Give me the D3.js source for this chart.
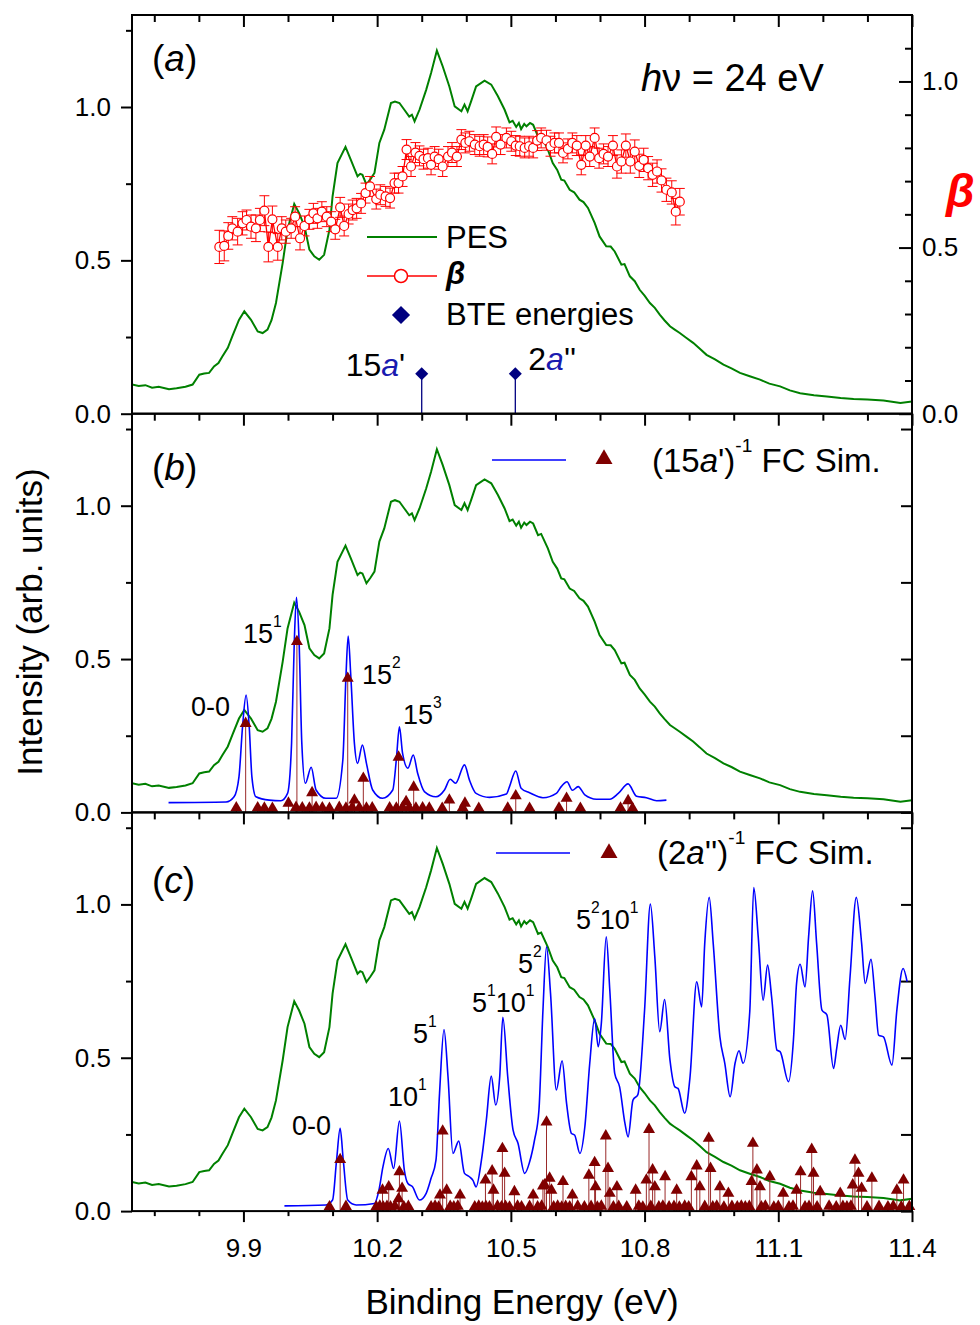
<!DOCTYPE html>
<html><head><meta charset="utf-8">
<script src="https://cdn.jsdelivr.net/npm/d3@7"></script>
<style>body{margin:0;background:#fff} svg{display:block} text{font-family:"Liberation Sans",Arial,sans-serif}</style>
</head><body><svg id="c" width="980" height="1325"></svg>
<script>
// ---------------- DATA ----------------
const xMajor = [9.9, 10.2, 10.5, 10.8, 11.1, 11.4];
const xMinor = [9.7, 9.8, 10.0, 10.1, 10.3, 10.4, 10.6, 10.7, 10.9, 11.0, 11.2, 11.3];
const yMajor = [0, 0.5, 1.0];
const yMinor = [0.25, 0.75, 1.25];
const betaMajor = [0, 0.5, 1.0];
const betaMinor = [0.1, 0.2, 0.3, 0.4, 0.6, 0.7, 0.8, 0.9, 1.1];

// PES spectrum (binding energy eV, intensity)
const pes = [[9.65,0.095],[9.665,0.09],[9.68,0.093],[9.695,0.085],[9.71,0.088],[9.733,0.08],[9.75,0.083],[9.77,0.088],[9.786,0.095],[9.801,0.127],[9.812,0.131],[9.823,0.133],[9.834,0.154],[9.844,0.165],[9.853,0.187],[9.865,0.215],[9.875,0.252],[9.890,0.306],[9.902,0.334],[9.917,0.306],[9.932,0.268],[9.943,0.263],[9.954,0.274],[9.963,0.305],[9.973,0.361],[9.988,0.491],[9.999,0.60],[10.014,0.684],[10.025,0.654],[10.037,0.611],[10.048,0.535],[10.059,0.513],[10.070,0.502],[10.081,0.518],[10.093,0.60],[10.100,0.709],[10.111,0.817],[10.129,0.870],[10.141,0.828],[10.156,0.774],[10.162,0.782],[10.167,0.779],[10.176,0.747],[10.185,0.765],[10.194,0.785],[10.205,0.883],[10.216,0.926],[10.231,1.013],[10.240,1.018],[10.250,1.013],[10.261,0.991],[10.272,0.969],[10.278,0.975],[10.284,0.953],[10.295,0.991],[10.310,1.056],[10.321,1.111],[10.334,1.184],[10.347,1.133],[10.362,1.067],[10.374,1.002],[10.389,0.986],[10.396,1.008],[10.403,0.986],[10.411,1.019],[10.422,1.067],[10.441,1.086],[10.456,1.073],[10.471,1.035],[10.486,0.991],[10.497,0.950],[10.504,0.955],[10.512,0.935],[10.518,0.948],[10.523,0.928],[10.530,0.945],[10.535,0.937],[10.543,0.948],[10.550,0.942],[10.561,0.904],[10.568,0.908],[10.583,0.861],[10.594,0.817],[10.604,0.795],[10.613,0.763],[10.620,0.760],[10.632,0.730],[10.642,0.722],[10.654,0.698],[10.663,0.690],[10.673,0.671],[10.688,0.622],[10.699,0.578],[10.714,0.546],[10.724,0.545],[10.733,0.529],[10.748,0.486],[10.755,0.488],[10.767,0.448],[10.778,0.432],[10.789,0.404],[10.800,0.385],[10.812,0.361],[10.823,0.345],[10.834,0.323],[10.845,0.304],[10.857,0.285],[10.866,0.276],[10.879,0.263],[10.894,0.247],[10.909,0.231],[10.924,0.212],[10.939,0.192],[10.958,0.177],[10.977,0.160],[10.995,0.148],[11.014,0.133],[11.036,0.122],[11.059,0.111],[11.080,0.098],[11.104,0.089],[11.126,0.076],[11.149,0.067],[11.180,0.060],[11.209,0.056],[11.240,0.051],[11.269,0.048],[11.300,0.046],[11.336,0.043],[11.374,0.035],[11.40,0.040]];

// beta parameter (energy, beta, error)
const beta = [[9.846,0.502,0.05],[9.857,0.505,0.045],[9.866,0.535,0.04],[9.875,0.558,0.035],[9.887,0.548,0.04],[9.898,0.573,0.035],[9.907,0.583,0.03],[9.917,0.563,0.035],[9.928,0.558,0.04],[9.937,0.583,0.035],[9.947,0.611,0.045],[9.956,0.502,0.045],[9.965,0.585,0.04],[9.977,0.502,0.04],[9.986,0.558,0.035],[9.995,0.548,0.035],[10.007,0.558,0.03],[10.016,0.593,0.03],[10.027,0.528,0.035],[10.037,0.565,0.03],[10.048,0.585,0.03],[10.057,0.603,0.03],[10.066,0.588,0.03],[10.076,0.608,0.03],[10.087,0.593,0.03],[10.097,0.578,0.03],[10.106,0.555,0.03],[10.117,0.621,0.03],[10.126,0.565,0.03],[10.136,0.601,0.03],[10.145,0.613,0.03],[10.154,0.618,0.03],[10.164,0.633,0.03],[10.174,0.664,0.03],[10.184,0.684,0.03],[10.198,0.646,0.03],[10.207,0.659,0.03],[10.219,0.654,0.03],[10.229,0.649,0.03],[10.239,0.694,0.03],[10.248,0.694,0.03],[10.257,0.714,0.03],[10.266,0.795,0.03],[10.276,0.744,0.03],[10.286,0.786,0.03],[10.295,0.776,0.03],[10.304,0.766,0.03],[10.314,0.769,0.03],[10.321,0.749,0.03],[10.329,0.774,0.03],[10.338,0.766,0.03],[10.347,0.744,0.03],[10.359,0.774,0.03],[10.368,0.786,0.03],[10.379,0.774,0.03],[10.389,0.825,0.03],[10.398,0.815,0.03],[10.407,0.820,0.03],[10.419,0.810,0.03],[10.430,0.805,0.03],[10.439,0.810,0.03],[10.448,0.803,0.03],[10.458,0.782,0.03],[10.467,0.833,0.03],[10.477,0.810,0.03],[10.490,0.830,0.03],[10.501,0.820,0.03],[10.511,0.807,0.03],[10.520,0.805,0.03],[10.531,0.800,0.03],[10.541,0.805,0.03],[10.550,0.800,0.03],[10.559,0.822,0.03],[10.568,0.830,0.03],[10.580,0.823,0.03],[10.589,0.805,0.03],[10.598,0.815,0.03],[10.608,0.815,0.03],[10.617,0.785,0.03],[10.628,0.797,0.03],[10.638,0.815,0.03],[10.648,0.807,0.03],[10.658,0.749,0.03],[10.668,0.807,0.03],[10.677,0.774,0.03],[10.688,0.830,0.03],[10.698,0.769,0.03],[10.708,0.782,0.03],[10.718,0.774,0.03],[10.729,0.807,0.03],[10.738,0.744,0.035],[10.748,0.759,0.035],[10.758,0.807,0.035],[10.768,0.759,0.035],[10.778,0.789,0.035],[10.788,0.746,0.035],[10.798,0.764,0.035],[10.808,0.739,0.035],[10.818,0.719,0.035],[10.828,0.729,0.035],[10.838,0.702,0.035],[10.849,0.674,0.035],[10.861,0.666,0.035],[10.870,0.608,0.04],[10.879,0.638,0.04]];

// BTE energies
const bte = [[10.30,0.13,"15","a'"],[10.51,0.13,"2","a''"]];

// (15a')^-1 FC simulation: convolved spectrum and stick positions
const sim15 = [[9.732,0.032],[9.861,0.034],[9.879,0.051],[9.890,0.116],[9.898,0.279],[9.906,0.383],[9.913,0.279],[9.919,0.116],[9.928,0.051],[9.958,0.040],[9.984,0.038],[9.999,0.062],[10.008,0.225],[10.014,0.551],[10.019,0.701],[10.025,0.551],[10.031,0.225],[10.039,0.095],[10.052,0.147],[10.063,0.073],[10.085,0.046],[10.108,0.046],[10.123,0.171],[10.130,0.442],[10.135,0.575],[10.141,0.442],[10.149,0.225],[10.156,0.160],[10.167,0.220],[10.176,0.160],[10.190,0.073],[10.212,0.046],[10.235,0.073],[10.243,0.171],[10.250,0.279],[10.257,0.193],[10.269,0.144],[10.281,0.187],[10.291,0.127],[10.306,0.068],[10.332,0.051],[10.351,0.073],[10.364,0.108],[10.376,0.095],[10.396,0.155],[10.407,0.106],[10.422,0.062],[10.452,0.049],[10.490,0.060],[10.497,0.084],[10.511,0.135],[10.523,0.079],[10.542,0.064],[10.572,0.048],[10.602,0.062],[10.613,0.084],[10.626,0.100],[10.638,0.072],[10.651,0.084],[10.666,0.057],[10.692,0.043],[10.722,0.043],[10.741,0.062],[10.763,0.093],[10.782,0.053],[10.804,0.048],[10.827,0.038],[10.849,0.040]];
const sticks15 = [[9.905,0.29],[10.020,0.557],[10.134,0.437],[10.248,0.18],[10.054,0.064],[10.169,0.111],[10.282,0.082],[10.362,0.04],[10.397,0.03],[10.511,0.054],[10.265,0.035],[10.149,0.04],[10.001,0.03],[10.625,0.046],[10.763,0.038],
 [9.884,0.015],[9.932,0.015],[9.947,0.014],[9.965,0.013],[10.018,0.016],[10.032,0.015],[10.048,0.014],[10.063,0.016],[10.077,0.015],[10.093,0.013],[10.115,0.016],[10.130,0.014],[10.144,0.016],[10.160,0.015],[10.176,0.014],[10.189,0.015],[10.228,0.015],[10.243,0.014],[10.257,0.016],[10.272,0.015],[10.287,0.014],[10.302,0.015],[10.317,0.014],[10.346,0.013],[10.392,0.015],[10.428,0.013],[10.493,0.014],[10.542,0.013],[10.608,0.014],[10.656,0.013],[10.746,0.014],[10.773,0.013]];

// (2a'')^-1 FC simulation
const sim2 = [[9.992,0.017],[10.085,0.020],[10.100,0.036],[10.109,0.166],[10.117,0.270],[10.124,0.166],[10.134,0.036],[10.153,0.020],[10.194,0.025],[10.204,0.068],[10.213,0.144],[10.225,0.204],[10.237,0.139],[10.250,0.294],[10.261,0.134],[10.269,0.090],[10.279,0.080],[10.295,0.036],[10.310,0.058],[10.321,0.107],[10.332,0.166],[10.340,0.384],[10.350,0.592],[10.359,0.438],[10.370,0.188],[10.383,0.228],[10.396,0.123],[10.407,0.112],[10.415,0.100],[10.422,0.079],[10.434,0.166],[10.445,0.297],[10.456,0.440],[10.466,0.346],[10.475,0.438],[10.482,0.632],[10.493,0.438],[10.505,0.264],[10.516,0.221],[10.531,0.123],[10.542,0.160],[10.553,0.231],[10.563,0.329],[10.572,0.655],[10.580,0.862],[10.589,0.710],[10.602,0.395],[10.615,0.490],[10.625,0.351],[10.636,0.253],[10.643,0.248],[10.655,0.188],[10.666,0.275],[10.677,0.482],[10.688,0.628],[10.696,0.536],[10.703,0.612],[10.714,0.894],[10.722,0.720],[10.733,0.449],[10.744,0.405],[10.756,0.286],[10.763,0.242],[10.774,0.362],[10.785,0.380],[10.800,0.655],[10.813,1.001],[10.823,0.829],[10.834,0.585],[10.845,0.690],[10.857,0.492],[10.868,0.405],[10.875,0.400],[10.890,0.319],[10.902,0.438],[10.917,0.748],[10.928,0.666],[10.935,0.873],[10.945,1.023],[10.954,0.873],[10.969,0.568],[10.980,0.482],[10.992,0.373],[11.003,0.482],[11.012,0.523],[11.021,0.482],[11.036,0.650],[11.045,1.055],[11.055,0.894],[11.066,0.688],[11.076,0.802],[11.085,0.699],[11.097,0.525],[11.104,0.520],[11.123,0.422],[11.134,0.558],[11.141,0.742],[11.149,0.805],[11.160,0.731],[11.168,0.894],[11.177,1.044],[11.186,0.873],[11.198,0.655],[11.209,0.640],[11.224,0.465],[11.231,0.530],[11.240,0.606],[11.250,0.560],[11.261,0.764],[11.275,1.023],[11.287,0.873],[11.295,0.742],[11.308,0.821],[11.317,0.699],[11.325,0.574],[11.336,0.568],[11.355,0.476],[11.366,0.655],[11.380,0.791],[11.389,0.748]];
const sticks2 = [[10.117,0.168],[10.212,0.068],[10.226,0.079],[10.250,0.128],[10.256,0.074],[10.248,0.04],[10.347,0.261],[10.341,0.052],[10.356,0.068],[10.386,0.052],[10.443,0.101],[10.458,0.131],[10.461,0.068],[10.481,0.204],[10.486,0.123],[10.508,0.063],[10.550,0.052],[10.576,0.085],[10.580,0.290],[10.587,0.107],[10.572,0.082],[10.591,0.068],[10.617,0.096],[10.638,0.052],[10.675,0.117],[10.688,0.158],[10.690,0.079],[10.713,0.245],[10.718,0.139],[10.722,0.058],[10.738,0.079],[10.780,0.068],[10.804,0.101],[10.810,0.266],[10.818,0.134],[10.823,0.079],[10.846,0.112],[10.872,0.068],[10.905,0.112],[10.917,0.147],[10.924,0.079],[10.944,0.237],[10.948,0.139],[10.969,0.079],[10.988,0.058],[11.040,0.096],[11.043,0.221],[11.052,0.134],[11.059,0.079],[11.081,0.112],[11.111,0.058],[11.141,0.068],[11.150,0.128],[11.175,0.201],[11.179,0.123],[11.194,0.063],[11.239,0.058],[11.267,0.085],[11.272,0.166],[11.280,0.123],[11.287,0.074],[11.310,0.107],[11.366,0.068],[11.381,0.101],
 [10.093,0.014],[10.130,0.015],[10.198,0.014],[10.206,0.016],[10.214,0.013],[10.222,0.015],[10.230,0.014],[10.240,0.016],[10.260,0.014],[10.270,0.015],[10.321,0.014],[10.330,0.016],[10.338,0.013],[10.364,0.015],[10.372,0.014],[10.381,0.016],[10.419,0.014],[10.428,0.016],[10.436,0.013],[10.444,0.015],[10.452,0.014],[10.470,0.016],[10.479,0.014],[10.488,0.015],[10.497,0.013],[10.515,0.016],[10.524,0.014],[10.542,0.015],[10.560,0.014],[10.569,0.016],[10.596,0.014],[10.605,0.016],[10.614,0.013],[10.623,0.015],[10.632,0.014],[10.650,0.016],[10.665,0.014],[10.680,0.015],[10.694,0.013],[10.703,0.016],[10.730,0.014],[10.742,0.015],[10.760,0.014],[10.787,0.016],[10.796,0.013],[10.814,0.015],[10.832,0.014],[10.841,0.016],[10.855,0.014],[10.866,0.015],[10.878,0.013],[10.890,0.016],[10.899,0.014],[10.935,0.015],[10.953,0.014],[10.962,0.016],[10.978,0.013],[10.996,0.015],[11.008,0.014],[11.017,0.016],[11.026,0.014],[11.035,0.015],[11.062,0.014],[11.071,0.016],[11.090,0.013],[11.100,0.015],[11.124,0.014],[11.133,0.016],[11.160,0.014],[11.169,0.015],[11.187,0.014],[11.214,0.016],[11.230,0.014],[11.245,0.015],[11.254,0.014],[11.263,0.016],[11.299,0.014],[11.326,0.015],[11.346,0.014],[11.358,0.016],[11.376,0.014],[11.394,0.015]];

// ---------------- LAYOUT ----------------
const svg = d3.select("#c");
const L = 132, R = 912, PH = 398.7;
const tops = [15, 413.7, 812.4];
const x = d3.scaleLinear().domain([9.65, 11.4]).range([L, R]);
const ys = tops.map(t => d3.scaleLinear().domain([0, 1.3]).range([t + PH, t]));
const yBeta = d3.scaleLinear().domain([0, 1.2]).range([tops[0] + PH, tops[0]]);
const GREEN = "#008000", RED = "#ff0000", BLUE = "#0000ff", DRED = "#800000", NAVY = "#000080";
const FS = 26;

function rich(sel, px, py, size, parts, opts = {}) {
  const t = sel.append("text").attr("x", px).attr("y", py).attr("font-size", size);
  if (opts.anchor) t.attr("text-anchor", opts.anchor);
  if (opts.fill) t.attr("fill", opts.fill);
  let shift = 0;
  parts.forEach(p => {
    const s = t.append("tspan").text(p.t);
    const target = p.sup ? -0.6 * size : 0;
    if (target !== shift) { s.attr("dy", target - shift); shift = target; }
    if (p.sup) s.attr("font-size", size * 0.58);
    if (p.i) s.attr("font-style", "italic");
    if (p.b) s.attr("font-weight", "bold");
    if (p.c) s.attr("fill", p.c);
  });
  return t;
}
function styleAxis(g) {
  g.select(".domain").remove();
  g.selectAll(".tick line").attr("stroke", "#000").attr("stroke-width", 2);
  g.selectAll("text").attr("font-size", FS).attr("fill", "#000").attr("font-family", '"Liberation Sans",Arial,sans-serif');
}

const defs = svg.append("defs");
tops.forEach((t, i) => {
  defs.append("clipPath").attr("id", "clip" + i).append("rect")
    .attr("x", L).attr("y", t).attr("width", R - L).attr("height", PH);
});

const pesLine = y => d3.line().x(d => x(d[0])).y(d => y(d[1]));
const smooth = y => d3.line().curve(d3.curveMonotoneX).x(d => x(d[0])).y(d => y(d[1]));
const tri = d3.symbol().type(d3.symbolTriangle).size(62)();

tops.forEach((t, i) => {
  const y = ys[i];
  const g = svg.append("g");
  g.append("g").attr("transform", `translate(0,${t})`)
    .call(d3.axisBottom(x).tickValues(xMajor).tickSize(12).tickFormat("")).call(styleAxis);
  g.append("g").attr("transform", `translate(0,${t})`)
    .call(d3.axisBottom(x).tickValues(xMinor).tickSize(7).tickFormat("")).call(styleAxis);
  g.append("g").attr("transform", `translate(${L},0)`)
    .call(d3.axisLeft(y).tickValues(yMajor).tickSize(11).tickPadding(10).tickFormat(d3.format(".1f"))).call(styleAxis);
  g.append("g").attr("transform", `translate(${L},0)`)
    .call(d3.axisLeft(y).tickValues(yMinor).tickSize(6).tickFormat("")).call(styleAxis);
  if (i > 0) {
    g.append("g").attr("transform", `translate(${R},0)`)
      .call(d3.axisLeft(y).tickValues(yMajor.concat(yMinor)).tickSize(11).tickFormat("")).call(styleAxis);
  } else {
    g.append("g").attr("transform", `translate(${R},0)`)
      .call(d3.axisRight(yBeta).tickValues(betaMajor).tickSize(-13).tickPadding(10).tickFormat(d3.format(".1f"))).call(styleAxis);
    g.append("g").attr("transform", `translate(${R},0)`)
      .call(d3.axisRight(yBeta).tickValues(betaMinor).tickSize(-7).tickFormat("")).call(styleAxis);
  }
  svg.append("path").datum(pes).attr("clip-path", `url(#clip${i})`)
    .attr("fill", "none").attr("stroke", GREEN).attr("stroke-width", 2).attr("d", pesLine(y));
});

svg.append("g").attr("transform", `translate(0,${tops[2] + PH})`)
  .call(d3.axisBottom(x).tickValues(xMajor).tickSize(11).tickPadding(16).tickFormat(d3.format(".1f"))).call(styleAxis);
svg.append("g").attr("transform", `translate(0,${tops[2] + PH})`)
  .call(d3.axisBottom(x).tickValues(xMinor).tickSize(5).tickFormat("")).call(styleAxis);

// ---------- Panel a ----------
const ya = ys[0];
const ga = svg.append("g");
const bg = ga.append("g").attr("clip-path", "url(#clip0)");
bg.selectAll(".eb").data(beta).join("path")
  .attr("fill", "none").attr("stroke", RED).attr("stroke-width", 1)
  .attr("d", d => {
    const cx = x(d[0]), y1 = yBeta(d[1] - d[2]), y2 = yBeta(d[1] + d[2]);
    return `M${cx},${y1}V${y2}M${cx - 5},${y1}H${cx + 5}M${cx - 5},${y2}H${cx + 5}`;
  });
bg.append("path").datum(beta).attr("fill", "none").attr("stroke", RED).attr("stroke-width", 1.3)
  .attr("d", d3.line().x(d => x(d[0])).y(d => yBeta(d[1])));
bg.selectAll("circle").data(beta).join("circle")
  .attr("cx", d => x(d[0])).attr("cy", d => yBeta(d[1])).attr("r", 4.5)
  .attr("fill", "#fff").attr("stroke", RED).attr("stroke-width", 1.2);

const dia = d3.symbol().type(d3.symbolSquare).size(85)();
bte.forEach(b => {
  ga.append("line").attr("x1", x(b[0])).attr("x2", x(b[0])).attr("y1", ya(b[1])).attr("y2", ya(0))
    .attr("stroke", NAVY).attr("stroke-width", 1.3);
  ga.append("path").attr("d", dia).attr("fill", NAVY)
    .attr("transform", `translate(${x(b[0])},${ya(b[1])}) rotate(45)`);
});
rich(ga, x(bte[0][0]) - 76, 376, 32, [{ t: bte[0][2] }, { t: "a", i: 1, c: "#1a1ab0" }, { t: "'" }]);
rich(ga, x(bte[1][0]) + 13, 370, 32, [{ t: bte[1][2] }, { t: "a", i: 1, c: "#1a1ab0" }, { t: "''" }]);

ga.append("line").attr("x1", 367).attr("x2", 437).attr("y1", 237).attr("y2", 237).attr("stroke", GREEN).attr("stroke-width", 2);
ga.append("text").attr("x", 446).attr("y", 248).attr("font-size", 31).text("PES");
ga.append("line").attr("x1", 367).attr("x2", 437).attr("y1", 276).attr("y2", 276).attr("stroke", RED).attr("stroke-width", 1.5);
ga.append("circle").attr("cx", 401).attr("cy", 276).attr("r", 6.5).attr("fill", "#fff").attr("stroke", RED).attr("stroke-width", 1.5);
ga.append("text").attr("x", 446).attr("y", 284).attr("font-size", 31).attr("font-style", "italic").attr("font-weight", "bold").text("β");
ga.append("path").attr("d", d3.symbol().type(d3.symbolSquare).size(165)()).attr("fill", NAVY)
  .attr("transform", "translate(401,315) rotate(45)");
ga.append("text").attr("x", 446).attr("y", 325).attr("font-size", 31).text("BTE energies");

rich(ga, 152, 71, 37, [{ t: "(" }, { t: "a", i: 1 }, { t: ")" }]);
rich(ga, 641, 91, 38, [{ t: "h", i: 1 }, { t: "ν = 24 eV" }]);
ga.append("text").attr("x", 946).attr("y", 207).attr("font-size", 46).attr("fill", RED)
  .attr("font-style", "italic").attr("font-weight", "bold").text("β");

// ---------- FC panels ----------
function fcPanel(i, sim, sticks) {
  const y = ys[i];
  const g = svg.append("g").attr("clip-path", `url(#clip${i})`);
  g.append("path").datum(sim).attr("fill", "none").attr("stroke", BLUE).attr("stroke-width", 1.6)
    .attr("d", smooth(y));
  g.selectAll("line.st").data(sticks).join("line")
    .attr("x1", d => x(d[0])).attr("x2", d => x(d[0])).attr("y1", y(0)).attr("y2", d => y(d[1]))
    .attr("stroke", "#9a2a2a").attr("stroke-width", 1);
  svg.append("g").selectAll("path").data(sticks).join("path").attr("d", tri).attr("fill", DRED)
    .attr("transform", d => `translate(${x(d[0])},${y(d[1])})`);
}
fcPanel(1, sim15, sticks15);
fcPanel(2, sim2, sticks2);

const gb = svg.append("g");
rich(gb, 152, 480, 37, [{ t: "(" }, { t: "b", i: 1 }, { t: ")" }]);
gb.append("line").attr("x1", 492).attr("x2", 566).attr("y1", 460).attr("y2", 460).attr("stroke", BLUE).attr("stroke-width", 1.6);
gb.append("path").attr("d", d3.symbol().type(d3.symbolTriangle).size(125)()).attr("fill", DRED).attr("transform", "translate(604,459)");
rich(gb, 652, 472, 33, [{ t: "(15" }, { t: "a", i: 1 }, { t: "')" }, { t: "-1", sup: 1 }, { t: " FC Sim." }]);
rich(gb, 191, 716, 27, [{ t: "0-0" }]);
rich(gb, 243, 643, 27, [{ t: "15" }, { t: "1", sup: 1 }]);
rich(gb, 362, 684, 27, [{ t: "15" }, { t: "2", sup: 1 }]);
rich(gb, 403, 724, 27, [{ t: "15" }, { t: "3", sup: 1 }]);

const gc = svg.append("g");
rich(gc, 152, 893, 37, [{ t: "(" }, { t: "c", i: 1 }, { t: ")" }]);
gc.append("line").attr("x1", 496).attr("x2", 570).attr("y1", 853).attr("y2", 853).attr("stroke", BLUE).attr("stroke-width", 1.6);
gc.append("path").attr("d", d3.symbol().type(d3.symbolTriangle).size(125)()).attr("fill", DRED).attr("transform", "translate(609,853)");
rich(gc, 657, 864, 33, [{ t: "(2" }, { t: "a", i: 1 }, { t: "'')" }, { t: "-1", sup: 1 }, { t: " FC Sim." }]);
rich(gc, 292, 1135, 27, [{ t: "0-0" }]);
rich(gc, 388, 1106, 27, [{ t: "10" }, { t: "1", sup: 1 }]);
rich(gc, 413, 1043, 27, [{ t: "5" }, { t: "1", sup: 1 }]);
rich(gc, 472, 1012, 27, [{ t: "5" }, { t: "1", sup: 1 }, { t: "10" }, { t: "1", sup: 1 }]);
rich(gc, 518, 973, 27, [{ t: "5" }, { t: "2", sup: 1 }]);
rich(gc, 576, 929, 27, [{ t: "5" }, { t: "2", sup: 1 }, { t: "10" }, { t: "1", sup: 1 }]);

tops.forEach(t => {
  svg.append("rect").attr("x", L).attr("y", t).attr("width", R - L).attr("height", PH)
    .attr("fill", "none").attr("stroke", "#000").attr("stroke-width", 2);
});

svg.append("text").attr("x", (L + R) / 2).attr("y", 1314).attr("text-anchor", "middle").attr("font-size", 35)
  .text("Binding Energy (eV)");
svg.append("text").attr("transform", "translate(42,622) rotate(-90)").attr("text-anchor", "middle")
  .attr("font-size", 35).text("Intensity (arb. units)");
</script></body></html>
